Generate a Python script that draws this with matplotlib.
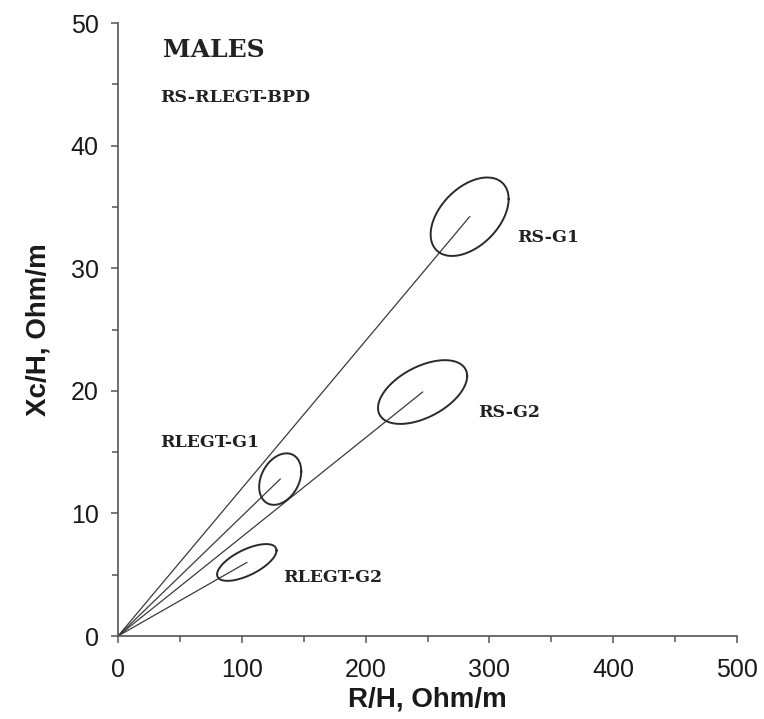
import numpy as np
import matplotlib
matplotlib.use("Agg")
import matplotlib.pyplot as plt
from matplotlib.ticker import MultipleLocator

# Group mean vectors (R/H, Xc/H) and ellipse spread
groups = ["RS-G1", "RS-G2", "RLEGT-G1", "RLEGT-G2"]
r_mean = [284, 246, 131, 104]
xc_mean = [34.2, 19.9, 12.8, 6.0]
r_half = [31.5, 36.0, 17.0, 24.0]
xc_half = [3.2, 2.6, 2.1, 1.5]
corr = [0.45, 0.5, 0.3, 0.65]

# Label placement (data coordinates)
label_x = [322, 291, 34, 133]
label_y = [32.5, 18.2, 15.8, 4.8]

title_main = "MALES"
title_sub = "RS-RLEGT-BPD"

fig = plt.figure(figsize=(7.64, 7.19), dpi=100)
ax = fig.add_axes([0.1545, 0.1154, 0.8102, 0.8526])

line_col = "#3a3a3a"
t = np.linspace(0, 2 * np.pi, 300)
for i, g in enumerate(groups):
    cx, cy = r_mean[i], xc_mean[i]
    ax.plot([0, cx], [0, cy], color=line_col, lw=0.9)
    rho = corr[i]
    ex = cx + r_half[i] * np.cos(t)
    ey = cy + xc_half[i] * (rho * np.cos(t) + np.sqrt(1 - rho ** 2) * np.sin(t))
    ax.plot(ex, ey, color="#2a2a2a", lw=1.4)
    ax.text(label_x[i], label_y[i], g, family="DejaVu Serif", fontsize=12.5,
            fontweight="bold", color="#222222", ha="left", va="center")

ax.text(36.3, 47.8, title_main, family="DejaVu Serif", fontsize=18,
        fontweight="bold", color="#222222", ha="left", va="center")
ax.text(34, 43.9, title_sub, family="DejaVu Serif", fontsize=12.5,
        fontweight="bold", color="#222222", ha="left", va="center")

ax.set_xlim(0, 500)
ax.set_ylim(0, 50)
ax.xaxis.set_major_locator(MultipleLocator(100))
ax.xaxis.set_minor_locator(MultipleLocator(50))
ax.yaxis.set_major_locator(MultipleLocator(10))
ax.yaxis.set_minor_locator(MultipleLocator(5))

for side in ["top", "right"]:
    ax.spines[side].set_visible(False)
for side in ["left", "bottom"]:
    ax.spines[side].set_color("#555555")
    ax.spines[side].set_linewidth(1.2)

ax.tick_params(which="major", direction="out", length=5, width=1.1,
               color="#555555", labelsize=18, labelcolor="#1a1a1a")
ax.tick_params(axis="x", which="major", pad=11)
ax.tick_params(axis="y", which="major", pad=9)
ax.tick_params(which="minor", direction="out", length=4, width=1.1,
               color="#555555")
for lab in ax.get_xticklabels() + ax.get_yticklabels():
    lab.set_family(["Liberation Sans", "DejaVu Sans"])

ax.set_xlabel("R/H, Ohm/m", family=["Liberation Sans", "DejaVu Sans"],
              fontsize=20, fontweight="bold", color="#1a1a1a", labelpad=3)
ax.set_ylabel("Xc/H, Ohm/m", family=["Liberation Sans", "DejaVu Sans"],
              fontsize=20, fontweight="bold", color="#1a1a1a", labelpad=14)

fig.savefig("out.png", dpi=100)
